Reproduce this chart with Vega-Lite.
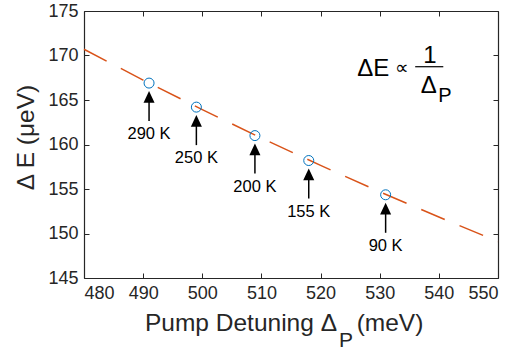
{
  "$schema": "https://vega.github.io/schema/vega-lite/v6.json",
  "width": 414,
  "height": 267,
  "autosize": {"type": "none"},
  "padding": {"left": 84, "top": 11, "right": 15, "bottom": 74},
  "background": "white",
  "config": {
    "view": {"stroke": null},
    "font": "Liberation Sans",
    "axis": {
      "domainColor": "#262626",
      "domainWidth": 1.2,
      "tickColor": "#262626",
      "tickWidth": 1,
      "tickSize": -5,
      "labelColor": "#262626",
      "labelFont": "Liberation Sans",
      "labelFontSize": 18,
      "titleFont": "Liberation Sans",
      "titleFontSize": 24.5,
      "titleFontWeight": "normal",
      "titleColor": "#262626",
      "grid": false
    }
  },
  "datasets": {
    "fit": [
      {"x": 480, "y": 170.70},
      {"x": 490, "y": 167.24},
      {"x": 500, "y": 163.92},
      {"x": 510, "y": 160.72},
      {"x": 520, "y": 157.65},
      {"x": 530, "y": 154.69},
      {"x": 540, "y": 151.85},
      {"x": 550, "y": 149.10}
    ],
    "pts": [
      {"x": 491.0, "y": 166.9, "label": "290 K"},
      {"x": 499.0, "y": 164.2, "label": "250 K"},
      {"x": 508.9, "y": 161.0, "label": "200 K"},
      {"x": 518.0, "y": 158.2, "label": "155 K"},
      {"x": 531.0, "y": 154.35, "label": "90 K"}
    ]
  },
  "resolve": {"axis": {"x": "independent", "y": "independent"}},
  "layer": [
    {
      "data": {"name": "fit"},
      "mark": {"type": "line", "color": "#D95319", "strokeWidth": 1.5, "strokeDash": [25.5, 16]},
      "encoding": {
        "x": {"field": "x", "type": "quantitative",
              "scale": {"domain": [480, 550], "nice": false, "zero": false},
              "axis": {"orient": "bottom", "values": [480, 490, 500, 510, 520, 530, 540, 550], "labelPadding": 11, "title": null}},
        "y": {"field": "y", "type": "quantitative",
              "scale": {"domain": [145, 175], "nice": false, "zero": false},
              "axis": {"orient": "left", "values": [145, 150, 155, 160, 165, 170, 175], "labelPadding": 11, "title": "Δ E (μeV)", "titlePadding": 9, "titleY": 126}}
      }
    },
    {
      "data": {"name": "pts"},
      "mark": {"type": "point", "shape": "circle", "filled": false, "color": "#0072BD", "strokeWidth": 1, "size": 100, "opacity": 1},
      "encoding": {
        "x": {"field": "x", "type": "quantitative",
              "axis": {"orient": "top", "values": [480, 490, 500, 510, 520, 530, 540, 550], "labels": false, "title": null}},
        "y": {"field": "y", "type": "quantitative",
              "axis": {"orient": "right", "values": [145, 150, 155, 160, 165, 170, 175], "labels": false, "title": null}}
      }
    },
    {
      "data": {"name": "pts"},
      "mark": {"type": "rule", "color": "black", "strokeWidth": 1.5, "yOffset": 17, "y2Offset": 38},
      "encoding": {
        "x": {"field": "x", "type": "quantitative", "axis": null},
        "y": {"field": "y", "type": "quantitative", "axis": null},
        "y2": {"field": "y"}
      }
    },
    {
      "data": {"name": "pts"},
      "mark": {"type": "point", "shape": "M0,-1L0.92,0.95L-0.92,0.95Z", "filled": true, "color": "black", "size": 144, "opacity": 1, "yOffset": 14},
      "encoding": {
        "x": {"field": "x", "type": "quantitative", "axis": null},
        "y": {"field": "y", "type": "quantitative", "axis": null}
      }
    },
    {
      "data": {"name": "pts"},
      "mark": {"type": "text", "fontSize": 16.5, "color": "black", "baseline": "middle", "align": "center", "yOffset": 51},
      "encoding": {
        "x": {"field": "x", "type": "quantitative", "axis": null},
        "y": {"field": "y", "type": "quantitative", "axis": null},
        "text": {"field": "label"}
      }
    },
    {
      "data": {"values": [
        {"x": 528.9, "y": 167.74, "t": "ΔE"},
        {"x": 538.5, "y": 169.12, "t": "1"},
        {"x": 538.3, "y": 165.75, "t": "Δ"}
      ]},
      "mark": {"type": "text", "fontSize": 24, "color": "black", "baseline": "alphabetic", "align": "center"},
      "encoding": {
        "x": {"field": "x", "type": "quantitative", "axis": null},
        "y": {"field": "y", "type": "quantitative", "axis": null},
        "text": {"field": "t"}
      }
    },
    {
      "data": {"values": [{"x": 533.7, "y": 168.65, "t": "∝"}]},
      "mark": {"type": "text", "fontSize": 19, "color": "black", "baseline": "middle", "align": "center"},
      "encoding": {
        "x": {"field": "x", "type": "quantitative", "axis": null},
        "y": {"field": "y", "type": "quantitative", "axis": null},
        "text": {"field": "t"}
      }
    },
    {
      "data": {"values": [{"x": 539.9, "y": 164.8, "t": "P"}]},
      "mark": {"type": "text", "fontSize": 20, "color": "black", "baseline": "alphabetic", "align": "left"},
      "encoding": {
        "x": {"field": "x", "type": "quantitative", "axis": null},
        "y": {"field": "y", "type": "quantitative", "axis": null},
        "text": {"field": "t"}
      }
    },
    {
      "data": {"values": [{"x": 536.0, "x2": 540.75, "y": 168.74}]},
      "mark": {"type": "rule", "color": "black", "strokeWidth": 1.2},
      "encoding": {
        "x": {"field": "x", "type": "quantitative", "axis": null},
        "x2": {"field": "x2"},
        "y": {"field": "y", "type": "quantitative", "axis": null}
      }
    },
    {
      "data": {"values": [{"x": 522.78, "y": 139.0, "t": "Pump Detuning Δ"}]},
      "mark": {"type": "text", "fontSize": 24.5, "color": "#262626", "baseline": "alphabetic", "align": "right"},
      "encoding": {
        "x": {"field": "x", "type": "quantitative", "axis": null},
        "y": {"field": "y", "type": "quantitative", "axis": null},
        "text": {"field": "t"}
      }
    },
    {
      "data": {"values": [{"x": 523.1, "y": 137.2, "t": "P"}]},
      "mark": {"type": "text", "fontSize": 21, "color": "#262626", "baseline": "alphabetic", "align": "left"},
      "encoding": {
        "x": {"field": "x", "type": "quantitative", "axis": null},
        "y": {"field": "y", "type": "quantitative", "axis": null},
        "text": {"field": "t"}
      }
    },
    {
      "data": {"values": [{"x": 526.1, "y": 139.0, "t": "(meV)"}]},
      "mark": {"type": "text", "fontSize": 24.5, "color": "#262626", "baseline": "alphabetic", "align": "left"},
      "encoding": {
        "x": {"field": "x", "type": "quantitative", "axis": null},
        "y": {"field": "y", "type": "quantitative", "axis": null},
        "text": {"field": "t"}
      }
    }
  ]
}
